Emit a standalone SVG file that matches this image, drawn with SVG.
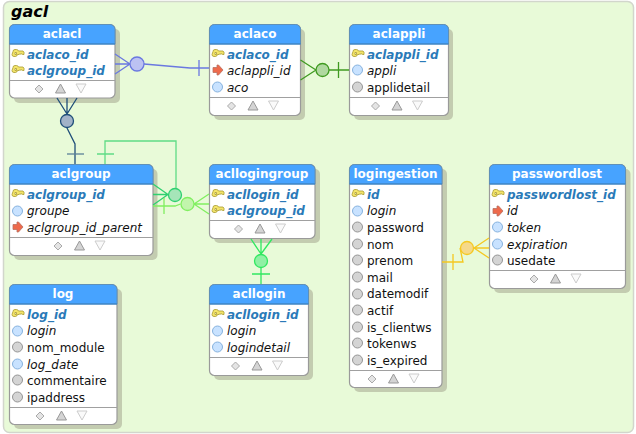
<svg xmlns="http://www.w3.org/2000/svg" width="636" height="434" viewBox="0 0 636 434">
<style>
text{font-family:"DejaVu Sans",sans-serif;font-size:12px}
.title{font-size:16px;font-weight:bold;font-style:italic;fill:#000}
.h{font-weight:bold;fill:#fff;text-anchor:middle}
.pk{font-weight:bold;font-style:italic;fill:#2a7ab8}
.i{font-style:italic;fill:#111}
.n{fill:#111}
.shadow{fill:#c3ccb0}
.body{fill:#fff;stroke:#9a9a9a;stroke-width:1.2}
.head{fill:#47a3ff;stroke:#5f90b8;stroke-width:1}
.line{stroke:#2f7fc8;stroke-width:1;fill:none}
.sep{stroke:#a0a0a0;stroke-width:1}
.c{fill:none;stroke-width:1.3}
</style>
<defs>
<path id="key" d="M-5-2.500q0-2 2-2h1.500q1.500 0 2 1.500h4.500l1 1.200v2.300h-1.500l-.8-1-.8 1-.8-1-.8 1h-1.800q-.5 2-2 2h-1.500q-2 0-2-2zM-3-1.500v2h1.500v-2z" fill="#f3e46a" stroke="#a89a30" stroke-width=".8" fill-rule="evenodd"/>
<path id="fk" d="M-5-2.500h4v-2.500h1.500l4.500 5-4.500 5h-1.500v-2.500h-4z" fill="#ee6a4c" stroke="#b87060" stroke-width=".8"/>
<circle id="idx" r="5" fill="#c8e2ff" stroke="#86b2de"/>
<circle id="col" r="5" fill="#d4d4d4" stroke="#959595"/>
<g id="foot">
<path d="M-23-4l4 4-4 4-4-4z" fill="#e4e4e4" stroke="#aaa"/>
<path d="M-1.500-5l5 9h-10z" fill="#d4d4d4" stroke="#999"/>
<path d="M14-5h10l-5 9z" fill="#fafafa" stroke="#ccc"/>
</g>
</defs>
<rect x="3.500" y="1.500" width="630" height="431" rx="6" fill="#e8fad8" stroke="#d2d6cc" stroke-width="1.500"/>
<text class="title" x="11" y="17">gacl</text>

<g id="aclacl">
<rect class="shadow" x="14" y="29" width="106" height="74" rx="5"/>
<rect class="body" x="9.500" y="24.500" width="105.500" height="73.500" rx="5"/>
<path class="head" d="M9.500 44V29.500a5 5 0 0 1 5-5H110a5 5 0 0 1 5 5V44z"/>
<path class="line" d="M9.500 44H115"/>
<path class="sep" d="M10 80.500H115"/>
<text class="h" x="62" y="38">aclacl</text>
<use href="#key" x="18" y="54"/><text class="pk" x="27" y="59">aclaco_id</text>
<use href="#key" x="18" y="70"/><text class="pk" x="27" y="75">aclgroup_id</text>
<use href="#foot" x="62" y="89"/>
</g>

<g id="aclaco">
<rect class="shadow" x="214" y="29" width="91" height="91" rx="5"/>
<rect class="body" x="209.500" y="24.500" width="91" height="91" rx="5"/>
<path class="head" d="M209.500 44V29.500a5 5 0 0 1 5-5H295.500a5 5 0 0 1 5 5V44z"/>
<path class="line" d="M209.500 44H300.500"/>
<path class="sep" d="M210 97.500H300"/>
<text class="h" x="255" y="38">aclaco</text>
<use href="#key" x="218" y="54"/><text class="pk" x="227" y="59">aclaco_id</text>
<use href="#fk" x="218" y="70"/><text class="i" x="227" y="75">aclappli_id</text>
<use href="#idx" x="217.500" y="87"/><text class="i" x="227" y="92">aco</text>
<use href="#foot" x="254.500" y="106"/>
</g>

<g id="aclappli">
<rect class="shadow" x="354" y="29" width="99" height="91" rx="5"/>
<rect class="body" x="349.500" y="24.500" width="99" height="91" rx="5"/>
<path class="head" d="M349.500 44V29.500a5 5 0 0 1 5-5H443.500a5 5 0 0 1 5 5V44z"/>
<path class="line" d="M349.500 44H448.500"/>
<path class="sep" d="M350 97.500H448"/>
<text class="h" x="399" y="38">aclappli</text>
<use href="#key" x="358" y="54"/><text class="pk" x="367" y="59">aclappli_id</text>
<use href="#idx" x="357.500" y="70"/><text class="i" x="367" y="75">appli</text>
<use href="#col" x="357.500" y="87"/><text class="n" x="367" y="92">applidetail</text>
<use href="#foot" x="398.500" y="106"/>
</g>

<g id="aclgroup">
<rect class="shadow" x="14" y="169" width="143.500" height="91" rx="5"/>
<rect class="body" x="9.500" y="164.500" width="143.500" height="91" rx="5"/>
<path class="head" d="M9.500 184V169.500a5 5 0 0 1 5-5H148a5 5 0 0 1 5 5V184z"/>
<path class="line" d="M9.500 184H153"/>
<path class="sep" d="M10 237.500H153"/>
<text class="h" x="81" y="178">aclgroup</text>
<use href="#key" x="18" y="194"/><text class="pk" x="27" y="199">aclgroup_id</text>
<use href="#idx" x="17.500" y="211"/><text class="i" x="27" y="215">groupe</text>
<use href="#fk" x="18" y="227"/><text class="i" x="27" y="232">aclgroup_id_parent</text>
<use href="#foot" x="81" y="246"/>
</g>

<g id="acllogingroup">
<rect class="shadow" x="214" y="169" width="106" height="74" rx="5"/>
<rect class="body" x="209.500" y="164.500" width="105.500" height="74" rx="5"/>
<path class="head" d="M209.500 184V169.500a5 5 0 0 1 5-5H310a5 5 0 0 1 5 5V184z"/>
<path class="line" d="M209.500 184H315"/>
<path class="sep" d="M210 220.500H315"/>
<text class="h" x="262" y="178">acllogingroup</text>
<use href="#key" x="218" y="194"/><text class="pk" x="227" y="199">acllogin_id</text>
<use href="#key" x="218" y="210"/><text class="pk" x="227" y="215">aclgroup_id</text>
<use href="#foot" x="261.500" y="229"/>
</g>

<g id="logingestion">
<rect class="shadow" x="354" y="169" width="93" height="223" rx="5"/>
<rect class="body" x="349.500" y="164.500" width="92.500" height="223" rx="5"/>
<path class="head" d="M349.500 184V169.500a5 5 0 0 1 5-5H437a5 5 0 0 1 5 5V184z"/>
<path class="line" d="M349.500 184H442"/>
<path class="sep" d="M350 370.500H442"/>
<text class="h" x="395.500" y="178">logingestion</text>
<use href="#key" x="358" y="194"/><text class="pk" x="367" y="199">id</text>
<use href="#idx" x="357.500" y="211"/><text class="i" x="367" y="215">login</text>
<use href="#col" x="357.500" y="227"/><text class="n" x="367" y="232">password</text>
<use href="#col" x="357.500" y="244"/><text class="n" x="367" y="249">nom</text>
<use href="#col" x="357.500" y="260"/><text class="n" x="367" y="265">prenom</text>
<use href="#col" x="357.500" y="277"/><text class="n" x="367" y="282">mail</text>
<use href="#col" x="357.500" y="294"/><text class="n" x="367" y="298">datemodif</text>
<use href="#col" x="357.500" y="310"/><text class="n" x="367" y="315">actif</text>
<use href="#col" x="357.500" y="327"/><text class="n" x="367" y="332">is_clientws</text>
<use href="#col" x="357.500" y="343"/><text class="n" x="367" y="348">tokenws</text>
<use href="#col" x="357.500" y="360"/><text class="n" x="367" y="365">is_expired</text>
<use href="#foot" x="395" y="379"/>
</g>

<g id="passwordlost">
<rect class="shadow" x="494" y="169" width="136.500" height="124" rx="5"/>
<rect class="body" x="489.500" y="164.500" width="136" height="124" rx="5"/>
<path class="head" d="M489.500 184V169.500a5 5 0 0 1 5-5H620.500a5 5 0 0 1 5 5V184z"/>
<path class="line" d="M489.500 184H625.500"/>
<path class="sep" d="M490 270.500H625"/>
<text class="h" x="557" y="178">passwordlost</text>
<use href="#key" x="498" y="194"/><text class="pk" x="507" y="199">passwordlost_id</text>
<use href="#fk" x="498" y="211"/><text class="i" x="507" y="215">id</text>
<use href="#idx" x="497.500" y="227"/><text class="i" x="507" y="232">token</text>
<use href="#idx" x="497.500" y="244"/><text class="i" x="507" y="249">expiration</text>
<use href="#col" x="497.500" y="260"/><text class="n" x="507" y="265">usedate</text>
<use href="#foot" x="557" y="279"/>
</g>

<g id="log">
<rect class="shadow" x="14" y="289" width="108" height="140" rx="5"/>
<rect class="body" x="9.500" y="284.500" width="107.500" height="140" rx="5"/>
<path class="head" d="M9.500 304V289.500a5 5 0 0 1 5-5H112a5 5 0 0 1 5 5V304z"/>
<path class="line" d="M9.500 304H117"/>
<path class="sep" d="M10 407.500H117"/>
<text class="h" x="63" y="298">log</text>
<use href="#key" x="18" y="314"/><text class="pk" x="27" y="319">log_id</text>
<use href="#idx" x="17.500" y="331"/><text class="i" x="27" y="335">login</text>
<use href="#col" x="17.500" y="347"/><text class="n" x="27" y="352">nom_module</text>
<use href="#idx" x="17.500" y="364"/><text class="i" x="27" y="369">log_date</text>
<use href="#col" x="17.500" y="380"/><text class="n" x="27" y="385">commentaire</text>
<use href="#col" x="17.500" y="397"/><text class="n" x="27" y="402">ipaddress</text>
<use href="#foot" x="63" y="416"/>
</g>

<g id="acllogin">
<rect class="shadow" x="214" y="289" width="99" height="91" rx="5"/>
<rect class="body" x="209.500" y="284.500" width="99" height="91" rx="5"/>
<path class="head" d="M209.500 304V289.500a5 5 0 0 1 5-5H303.500a5 5 0 0 1 5 5V304z"/>
<path class="line" d="M209.500 304H308.500"/>
<path class="sep" d="M210 357.500H308"/>
<text class="h" x="259" y="298">acllogin</text>
<use href="#key" x="218" y="314"/><text class="pk" x="227" y="319">acllogin_id</text>
<use href="#idx" x="217.500" y="331"/><text class="i" x="227" y="335">login</text>
<use href="#idx" x="217.500" y="347"/><text class="i" x="227" y="352">logindetail</text>
<use href="#foot" x="258.500" y="366"/>
</g>

<g id="connectors">
<g class="c" stroke="#6a78e0">
<path d="M115 54L130 64M115 64H130M115 74L130 64M144 64L190 68H209M199 60V76"/>
<circle cx="137" cy="64" r="7" fill="#bcc2f2"/>
</g>
<g class="c" stroke="#1f4e79">
<path d="M57 98L67 114M67 98V114M77 98L67 114M67 128L75 144V164"/>
<path d="M67 154H84" stroke="#5a8098"/>
<circle cx="67" cy="121" r="6.500" fill="#a2b2c8"/>
</g>
<g class="c" stroke="#3f9a20">
<path d="M300.500 60L316 70M300.500 80L316 70M329 70H349M338.500 62V78"/>
<circle cx="322.500" cy="70" r="6.500" fill="#b0d8a0"/>
</g>
<g class="c" stroke="#5fdc85">
<path d="M105 164V141H176V188M97 154H114"/>
<path d="M153 184L168 194.500M153 194.500H168M153 205L168 194.500" stroke="#2fd070"/>
<circle cx="175" cy="195" r="6.500" fill="#a5e5b8" stroke="#2fd070"/>
</g>
<g class="c" stroke="#80ef60">
<path d="M209 194L194 204M209 204H194M209 214L194 204M180.500 204L175 206H153M164 198V214"/>
<circle cx="187.500" cy="204" r="6.500" fill="#c2f5ac"/>
</g>
<g class="c" stroke="#30e860">
<path d="M251 239L261 254M261 239V254M272 239L261 254M261 268V284M252 274H270"/>
<circle cx="261" cy="261" r="6.500" fill="#90f0a4"/>
</g>
<g class="c" stroke="#f5c820">
<path d="M489 238L474 248M489 258L474 248M489 248H474M460 248L463 262H442M453 254V270"/>
<circle cx="467" cy="248" r="6.500" fill="#f5d98a"/>
</g>
</g>
</svg>
